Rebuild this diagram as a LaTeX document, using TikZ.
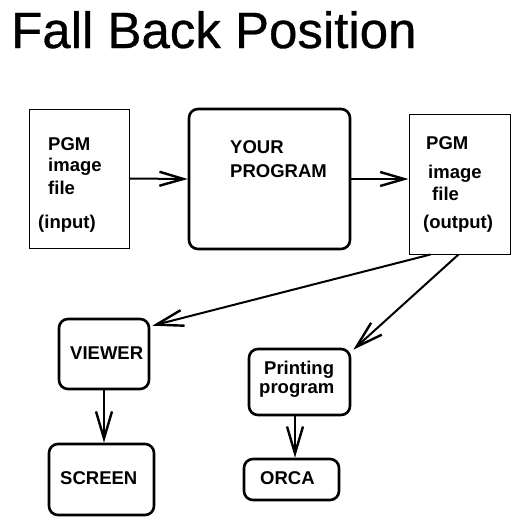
\documentclass[tikz,border=0pt]{standalone}
\usepackage{fontspec}
\setmainfont{Liberation Sans}
\newfontfamily\titlefont[FakeBold=0.6]{Liberation Sans}
\usetikzlibrary{arrows.meta}
\begin{document}
\begin{tikzpicture}[x=1pt,y=-1pt,
  thinbox/.style={draw,line width=1pt,inner sep=0pt},
  thickbox/.style={draw,line width=2.6pt,rounded corners=9pt,inner sep=0pt},
  lbl/.style={anchor=base west,inner sep=0pt,font=\fontsize{18.5}{20}\selectfont\bfseries},
  conn/.style={line width=2pt,-{Straight Barb[length=24pt,width=14pt,line width=2.4pt]}},
  connb/.style={line width=2pt,-{Straight Barb[length=27pt,width=16pt,line width=2.4pt]}}]
\useasboundingbox (0,0) rectangle (521,531);
\node[anchor=base west,inner sep=0pt,font=\fontsize{51}{55}\titlefont] (title) at (11,48) {Fall Back Position};
% boxes
\node[thinbox,minimum width=100pt,minimum height=139pt] (in) at (79,178.5) {};
\node[thickbox,minimum width=161pt,minimum height=140pt] (prog) at (269.5,179) {};
\node[thinbox,minimum width=101pt,minimum height=140pt] (out) at (459.5,184) {};
\node[thickbox,minimum width=90pt,minimum height=70pt] (viewer) at (104,354) {};
\node[thickbox,minimum width=105pt,minimum height=71pt] (screen) at (101.5,479.5) {};
\node[thickbox,minimum width=101pt,minimum height=66pt] (print) at (299.5,382) {};
\node[thickbox,minimum width=95pt,minimum height=41pt] (orca) at (291.5,479.5) {};
% texts
\node[lbl] (t1) at (48,150) {PGM};
\node[lbl] (t2) at (48,171.5) {image};
\node[lbl] (t3) at (48,194) {file};
\node[lbl] (t4) at (38,228) {(input)};
\node[lbl] (t5) at (230,153) {YOUR};
\node[lbl] (t6) at (230,177) {PROGRAM};
\node[lbl] (t7) at (426,149) {PGM};
\node[lbl] (t8) at (428,178) {image};
\node[lbl] (t9) at (432,200) {file};
\node[lbl] (t10) at (423,228) {(output)};
\node[lbl] (t11) at (70,359) {VIEWER};
\node[lbl] (t12) at (60,484) {SCREEN};
\node[lbl] (t13) at (264,374) {Printing};
\node[lbl] (t14) at (259,393) {program};
\node[lbl] (t15) at (260,484) {ORCA};
% connectors
\draw[conn] (in.east) -- (prog.west);
\draw[conn] (prog.east) -- (prog.east -| out.west);
\draw[connb] ([xshift=-29pt]out.south) -- ([shift={(2pt,-8pt)}]viewer.north east);
\draw[connb] ([xshift=-1pt]out.south) -- ([shift={(2pt,-2pt)}]print.north east);
\draw[connb] (viewer.south) -- (viewer.south |- screen.north);
\draw[connb] ([xshift=-4.5pt]print.south) -- ([xshift=-4.5pt]print.south |- orca.north);
\end{tikzpicture}
\end{document}
